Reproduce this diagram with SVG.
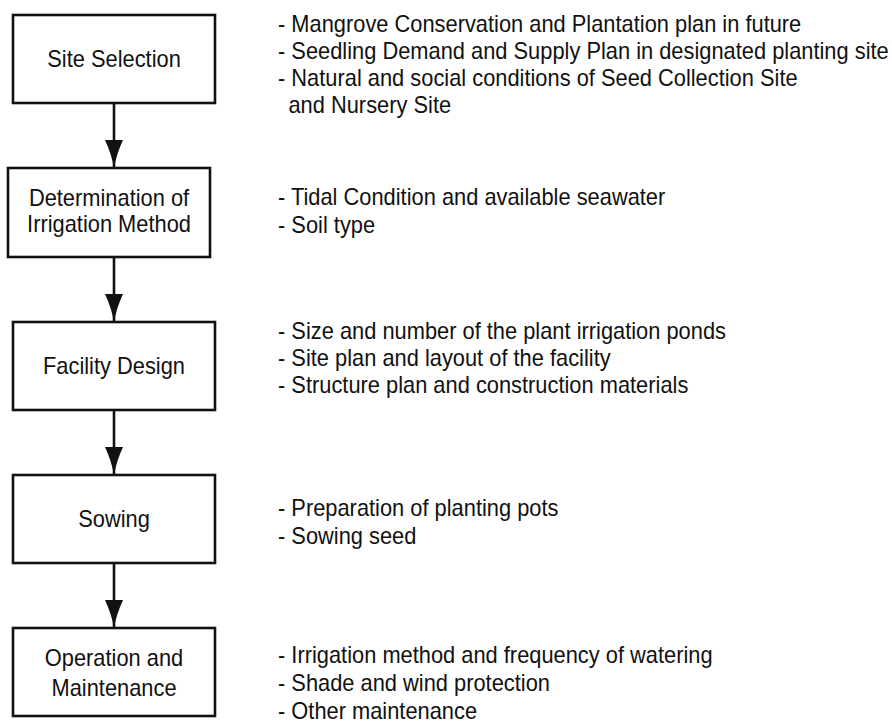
<svg xmlns="http://www.w3.org/2000/svg" width="892" height="724" viewBox="0 0 892 724">
  <defs>
    <style>
      .box { fill: #ffffff; stroke: #111111; stroke-width: 2.6; }
      .lbl { font-family: "Liberation Sans", Arial, sans-serif; font-size: 23px; fill: #111111; }
      .mid { text-anchor: middle; }
      .edge { fill: none; stroke: #111111; stroke-width: 2.6; marker-end: url(#arrow); }
    </style>
    <marker id="arrow" markerUnits="userSpaceOnUse" viewBox="0 0 28 18" refX="28" refY="9" markerWidth="28" markerHeight="18" orient="auto">
      <path d="M0,0 Q14,6.5 28,9 Q14,11.5 0,18 Z" fill="#111111"/>
    </marker>
  </defs>
  <rect width="892" height="724" fill="#ffffff"/>

  <g id="connectors">
    <path class="edge" d="M114,103 L114,168"/>
    <path class="edge" d="M114,257 L114,322"/>
    <path class="edge" d="M114,410 L114,475"/>
    <path class="edge" d="M114,563 L114,628"/>
  </g>

  <g id="site-selection">
    <rect class="box" x="13" y="15" width="202" height="88"/>
    <g transform="translate(114 0) scale(0.95 1)">
      <text class="lbl mid" x="0" y="67.5">Site Selection</text>
    </g>
  </g>

  <g id="irrigation-method">
    <rect class="box" x="8" y="168" width="202" height="89"/>
    <g transform="translate(109 0) scale(0.95 1)">
      <text class="lbl mid" x="0" y="206">Determination of</text>
      <text class="lbl mid" x="0" y="232">Irrigation Method</text>
    </g>
  </g>

  <g id="facility-design">
    <rect class="box" x="13" y="322" width="202" height="88"/>
    <g transform="translate(114 0) scale(0.95 1)">
      <text class="lbl mid" x="0" y="374">Facility Design</text>
    </g>
  </g>

  <g id="sowing">
    <rect class="box" x="13" y="475" width="202" height="88"/>
    <g transform="translate(114 0) scale(0.95 1)">
      <text class="lbl mid" x="0" y="527.5">Sowing</text>
    </g>
  </g>

  <g id="operation-maintenance">
    <rect class="box" x="13" y="628" width="202" height="88"/>
    <g transform="translate(114 0) scale(0.95 1)">
      <text class="lbl mid" x="0" y="666">Operation and</text>
      <text class="lbl mid" x="0" y="696">Maintenance</text>
    </g>
  </g>

  <g id="notes-site-selection" transform="translate(278 0) scale(0.95 1)">
    <text class="lbl" x="0" y="32">- Mangrove Conservation and Plantation plan in future</text>
    <text class="lbl" x="0" y="59.5">- Seedling Demand and Supply Plan in designated planting site</text>
    <text class="lbl" x="0" y="86.5">- Natural and social conditions of Seed Collection Site</text>
    <text class="lbl" x="11" y="113.5">and Nursery Site</text>
  </g>

  <g id="notes-irrigation" transform="translate(278 0) scale(0.95 1)">
    <text class="lbl" x="0" y="205">- Tidal Condition and available seawater</text>
    <text class="lbl" x="0" y="233">- Soil type</text>
  </g>

  <g id="notes-facility" transform="translate(278 0) scale(0.95 1)">
    <text class="lbl" x="0" y="339">- Size and number of the plant irrigation ponds</text>
    <text class="lbl" x="0" y="366">- Site plan and layout of the facility</text>
    <text class="lbl" x="0" y="393">- Structure plan and construction materials</text>
  </g>

  <g id="notes-sowing" transform="translate(278 0) scale(0.95 1)">
    <text class="lbl" x="0" y="516">- Preparation of planting pots</text>
    <text class="lbl" x="0" y="544">- Sowing seed</text>
  </g>

  <g id="notes-operation" transform="translate(278 0) scale(0.95 1)">
    <text class="lbl" x="0" y="663">- Irrigation method and frequency of watering</text>
    <text class="lbl" x="0" y="691">- Shade and wind protection</text>
    <text class="lbl" x="0" y="719">- Other maintenance</text>
  </g>
</svg>
